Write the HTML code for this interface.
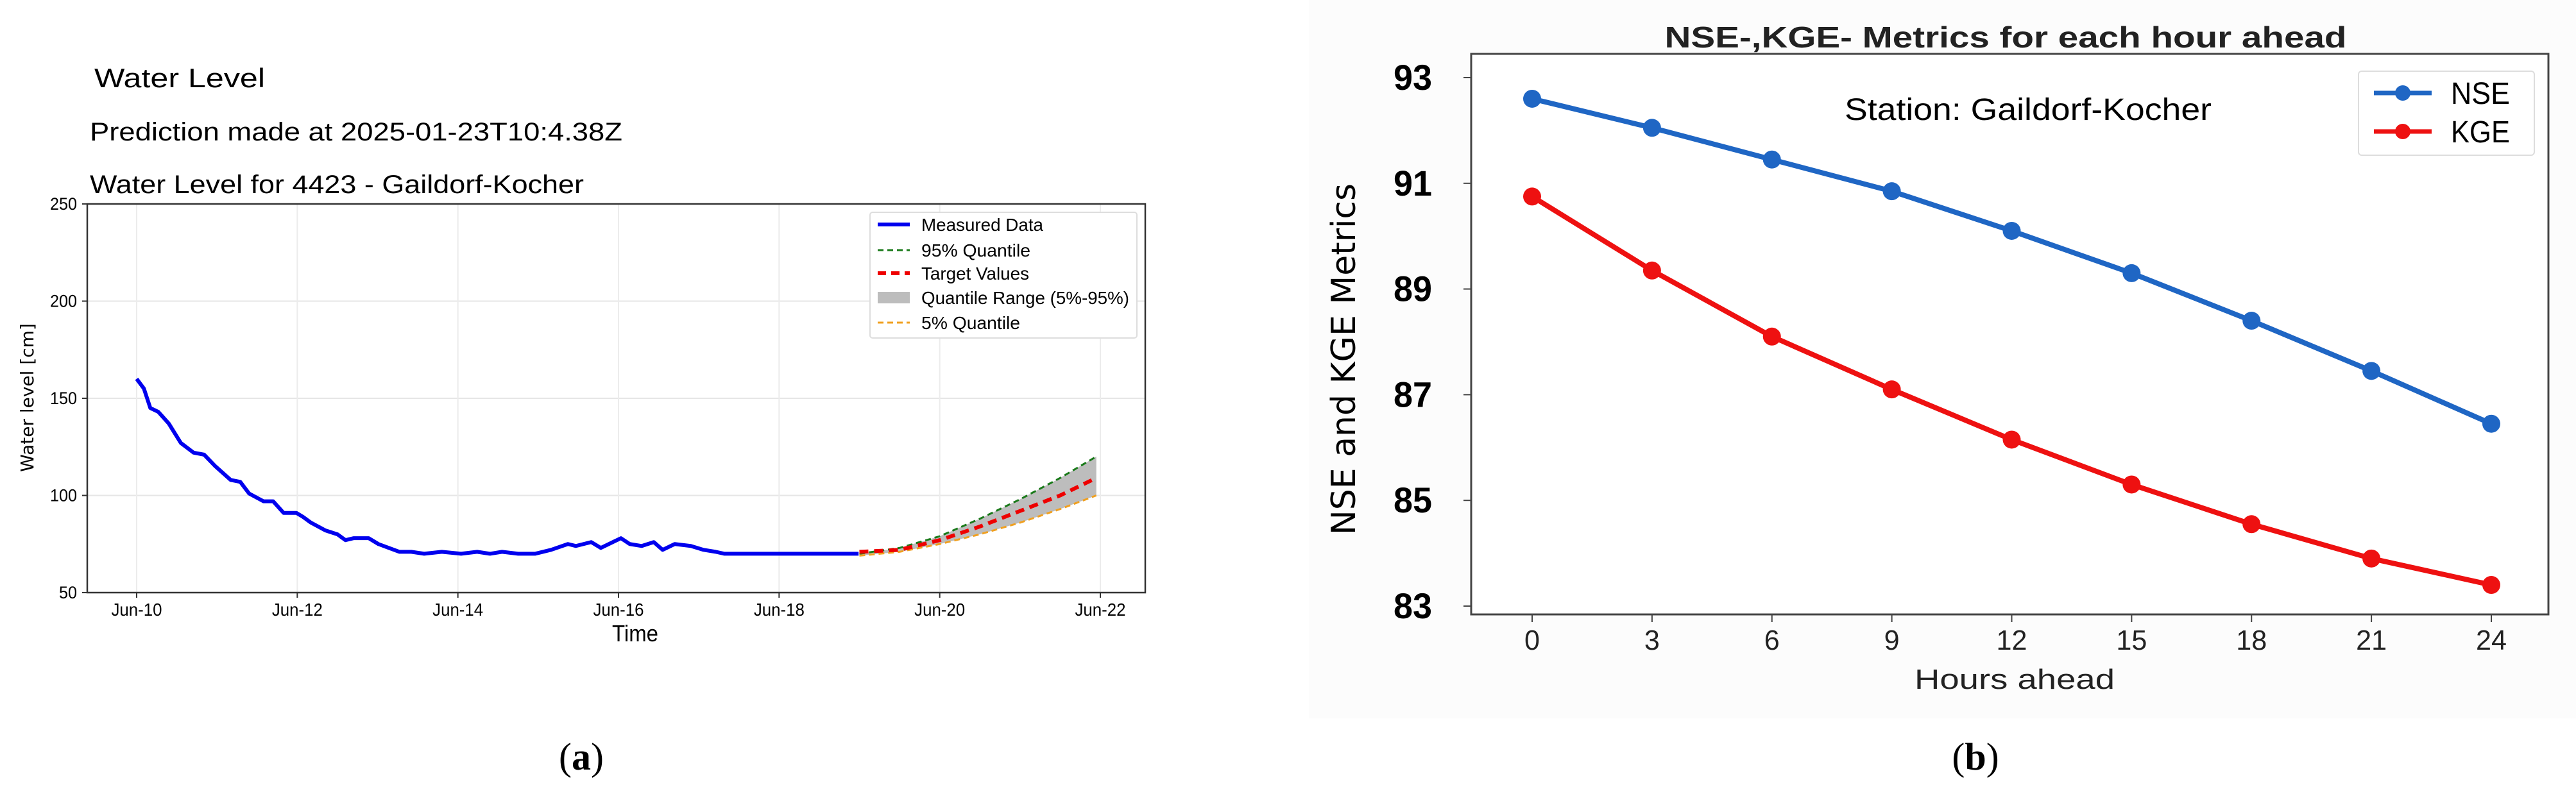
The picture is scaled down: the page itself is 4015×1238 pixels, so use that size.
<!DOCTYPE html>
<html><head><meta charset="utf-8"><style>
html,body{margin:0;padding:0;background:#fff;}
svg{display:block;}
text{font-family:"Liberation Sans Narrow","Liberation Sans",sans-serif;}
</style></head><body>
<svg id="s" width="4015" height="1238" viewBox="0 0 4015 1238" xmlns="http://www.w3.org/2000/svg">
<rect x="2040" y="0" width="1975" height="1120" fill="#fcfcfc"/>
<g id="a">
<text x="147" y="136" font-size="42" textLength="266" lengthAdjust="spacingAndGlyphs">Water Level</text>
<text x="140" y="219" font-size="40" textLength="830" lengthAdjust="spacingAndGlyphs">Prediction made at 2025-01-23T10:4.38Z</text>
<text x="140" y="301" font-size="40" textLength="770" lengthAdjust="spacingAndGlyphs">Water Level for 4423 - Gaildorf-Kocher</text>
<g id="agrid"></g>
<g id="amarks"></g>
<rect x="136" y="318" width="1649" height="606" fill="none" stroke="#333" stroke-width="2.5"/>
<g id="aticks"></g>
<text x="990" y="1000" font-size="36" text-anchor="middle" textLength="72" lengthAdjust="spacingAndGlyphs">Time</text>
<text transform="translate(52,620) rotate(-90)" font-size="28" text-anchor="middle" style="font-family:'DejaVu Sans',sans-serif">Water level [cm]</text>
<g>
<rect x="1356" y="331" width="416" height="196" fill="#fff" stroke="#ddd" stroke-width="2" rx="4"/>
<line x1="1368" y1="350" x2="1418" y2="350" stroke="#0000ee" stroke-width="6"/>
<text x="1436" y="360" font-size="28" textLength="190" lengthAdjust="spacingAndGlyphs">Measured Data</text>
<line x1="1368" y1="390" x2="1418" y2="390" stroke="#1a7a1a" stroke-width="3" stroke-dasharray="9,6"/>
<text x="1436" y="400" font-size="28" textLength="170" lengthAdjust="spacingAndGlyphs">95% Quantile</text>
<line x1="1368" y1="426" x2="1418" y2="426" stroke="#ee0000" stroke-width="6" stroke-dasharray="13,8"/>
<text x="1436" y="436" font-size="28" textLength="168" lengthAdjust="spacingAndGlyphs">Target Values</text>
<rect x="1368" y="455" width="50" height="18" fill="#bdbdbd"/>
<text x="1436" y="474" font-size="28" textLength="324" lengthAdjust="spacingAndGlyphs">Quantile Range (5%-95%)</text>
<line x1="1368" y1="503" x2="1418" y2="503" stroke="#f0a020" stroke-width="3" stroke-dasharray="9,6"/>
<text x="1436" y="513" font-size="28" textLength="154" lengthAdjust="spacingAndGlyphs">5% Quantile</text>
</g>
<text x="906" y="1200" font-size="60" text-anchor="middle" style="font-family:'Liberation Serif',serif">(<tspan font-weight="bold">a</tspan>)</text>
</g>
<g id="b">
<text x="3126" y="74" font-size="46" font-weight="bold" text-anchor="middle" textLength="1063" lengthAdjust="spacingAndGlyphs" fill="#222">NSE-,KGE- Metrics for each hour ahead</text>
<rect x="2293" y="84" width="1679" height="874" fill="#fff" stroke="#444" stroke-width="3"/>
<text x="2875" y="187" font-size="48" textLength="572" lengthAdjust="spacingAndGlyphs">Station: Gaildorf-Kocher</text>
<g id="bticks"></g>
<g id="bmarks"></g>
<g>
<rect x="3676" y="111" width="274" height="131" fill="#fff" stroke="#ddd" stroke-width="2" rx="5"/>
<line x1="3700" y1="145" x2="3790" y2="145" stroke="#1f66c4" stroke-width="7"/><circle cx="3745" cy="145" r="12" fill="#1f66c4"/>
<text x="3820" y="162" font-size="48" textLength="92" lengthAdjust="spacingAndGlyphs">NSE</text>
<line x1="3700" y1="205" x2="3790" y2="205" stroke="#ee1111" stroke-width="7"/><circle cx="3745" cy="205" r="12" fill="#ee1111"/>
<text x="3820" y="222" font-size="48" textLength="92" lengthAdjust="spacingAndGlyphs">KGE</text>
</g>
<text x="3140" y="1074" font-size="44" text-anchor="middle" textLength="312" lengthAdjust="spacingAndGlyphs" fill="#222">Hours ahead</text>
<text transform="translate(2112,560) rotate(-90)" font-size="52" text-anchor="middle" style="font-family:'DejaVu Sans',sans-serif">NSE and KGE Metrics</text>
<text x="3079" y="1200" font-size="60" text-anchor="middle" style="font-family:'Liberation Serif',serif">(<tspan font-weight="bold">b</tspan>)</text>
</g>
</svg>
<script>
// ----- Panel a data -----
const measDays = [0,0.09,0.17,0.27,0.4,0.55,0.71,0.84,0.98,1.17,1.29,1.4,1.58,1.7,1.83,1.99,2.07,2.17,2.35,2.5,2.6,2.7,2.89,3.01,3.14,3.27,3.42,3.58,3.8,4.04,4.24,4.4,4.55,4.75,4.96,5.16,5.37,5.47,5.66,5.78,5.93,6.03,6.14,6.29,6.44,6.55,6.7,6.9,7.06,7.21,7.32,7.52,8.99];
const measVals = [160,155,145,143,137,127,122,121,115,108,107,101,97,97,91,91,89,86,82,80,77,78,78,75,73,71,71,70,71,70,71,70,71,70,70,72,75,74,76,73,76,78,75,74,76,72,75,74,72,71,70,70,70];
const fcDays = [9,9.5,10,10.5,11,11.5,11.95];
const q95Vals = [70,73,79,88,98,109,120];
const targetVals = [71,72,77,84,92,100,109];
const q5Vals = [69,71,75,80,86,93,100];
const aYTicks = [50,100,150,200,250];
const aXTickDays = [0,2,4,6,8,10,12];
const aXTickLabels = ["Jun-10","Jun-12","Jun-14","Jun-16","Jun-18","Jun-20","Jun-22"];
// ----- Panel b data -----
const hours = [0,3,6,9,12,15,18,21,24];
const nseVals = [92.6,92.05,91.45,90.85,90.1,89.3,88.4,87.45,86.45];
const kgeVals = [90.75,89.35,88.1,87.1,86.15,85.3,84.55,83.9,83.4];
const bYTicks = [83,85,87,89,91,93];

const NS="http://www.w3.org/2000/svg";
function mk(tag,attrs,parent){const e=document.createElementNS(NS,tag);for(const k in attrs)e.setAttribute(k,attrs[k]);parent.appendChild(e);return e;}
const ax=d=>213+d*(1715-213)/12;
const ay=v=>924-(v-50)*(924-318)/200;
const agrid=document.getElementById('agrid'),amarks=document.getElementById('amarks'),aticks=document.getElementById('aticks');
aYTicks.forEach(v=>{
  const l=mk('line',{x1:136,x2:1785,y1:ay(v),y2:ay(v),stroke:'#e6e6e6','stroke-width':2},agrid);
  
  
  mk('line',{x1:128,x2:136,y1:ay(v),y2:ay(v),stroke:'#333','stroke-width':2},aticks);
  const t=mk('text',{x:120,y:ay(v)+9,'font-size':27,'text-anchor':'end',textLength:String(v).length*14,lengthAdjust:'spacingAndGlyphs'},aticks);t.textContent=v;
  
  
});
aXTickDays.forEach((d,i)=>{
  const l=mk('line',{x1:ax(d),x2:ax(d),y1:318,y2:924,stroke:'#ececec','stroke-width':2},agrid);
  
  
  mk('line',{x1:ax(d),x2:ax(d),y1:924,y2:932,stroke:'#333','stroke-width':2},aticks);
  const t=mk('text',{x:ax(d),y:960,'font-size':28,'text-anchor':'middle',textLength:79,lengthAdjust:'spacingAndGlyphs'},aticks);t.textContent=aXTickLabels[i];
  
  
});
let band=fcDays.map((d,i)=>ax(d)+','+ay(q95Vals[i])).join(' ')+' '+fcDays.slice().reverse().map((d,i)=>ax(d)+','+ay(q5Vals[q5Vals.length-1-i])).join(' ');
const bandEl=mk('polygon',{points:band,fill:'#bdbdbd'},amarks);


const meas=mk('polyline',{points:measDays.map((d,i)=>ax(d)+','+ay(measVals[i])).join(' '),fill:'none',stroke:'#0000ee','stroke-width':6,'stroke-linejoin':'round'},amarks);


[[q95Vals,'#1a7a1a',3,'9,6','q95-line'],[q5Vals,'#f0a020',3,'9,6','q5-line'],[targetVals,'#ee0000',6,'14,9','target-values-line']].forEach(s=>{
  const p=mk('polyline',{points:fcDays.map((d,i)=>ax(d)+','+ay(s[0][i])).join(' '),fill:'none',stroke:s[1],'stroke-width':s[2],'stroke-dasharray':s[3]},amarks);
  
  
});
// Panel b
const bx=h=>2388+h*(3883-2388)/24;
const by=v=>945-(v-83)*(945-121)/10;
const bticks=document.getElementById('bticks'),bmarks=document.getElementById('bmarks');
bYTicks.forEach(v=>{
  mk('line',{x1:2281,x2:2293,y1:by(v),y2:by(v),stroke:'#444','stroke-width':2},bticks);
  const t=mk('text',{x:2232,y:by(v)+19,'font-size':56,'font-weight':'bold','text-anchor':'end',textLength:60,lengthAdjust:'spacingAndGlyphs'},bticks);t.textContent=v;
  
  
});
hours.forEach(h=>{
  mk('line',{x1:bx(h),x2:bx(h),y1:958,y2:970,stroke:'#444','stroke-width':2},bticks);
  const t=mk('text',{x:bx(h),y:1013,'font-size':44,'text-anchor':'middle',fill:'#222',textLength:String(h).length*24,lengthAdjust:'spacingAndGlyphs'},bticks);t.textContent=h;
  
  
});
[[nseVals,'#1f66c4','nse'],[kgeVals,'#ee1111','kge']].forEach(s=>{
  const p=mk('polyline',{points:hours.map((h,i)=>bx(h)+','+by(s[0][i])).join(' '),fill:'none',stroke:s[1],'stroke-width':8,'stroke-linejoin':'round'},bmarks);
  
  
  hours.forEach((h,i)=>{
    const c=mk('circle',{cx:bx(h),cy:by(s[0][i]),r:14,fill:s[1]},bmarks);
    
    
  });
});
</script>
</body></html>
